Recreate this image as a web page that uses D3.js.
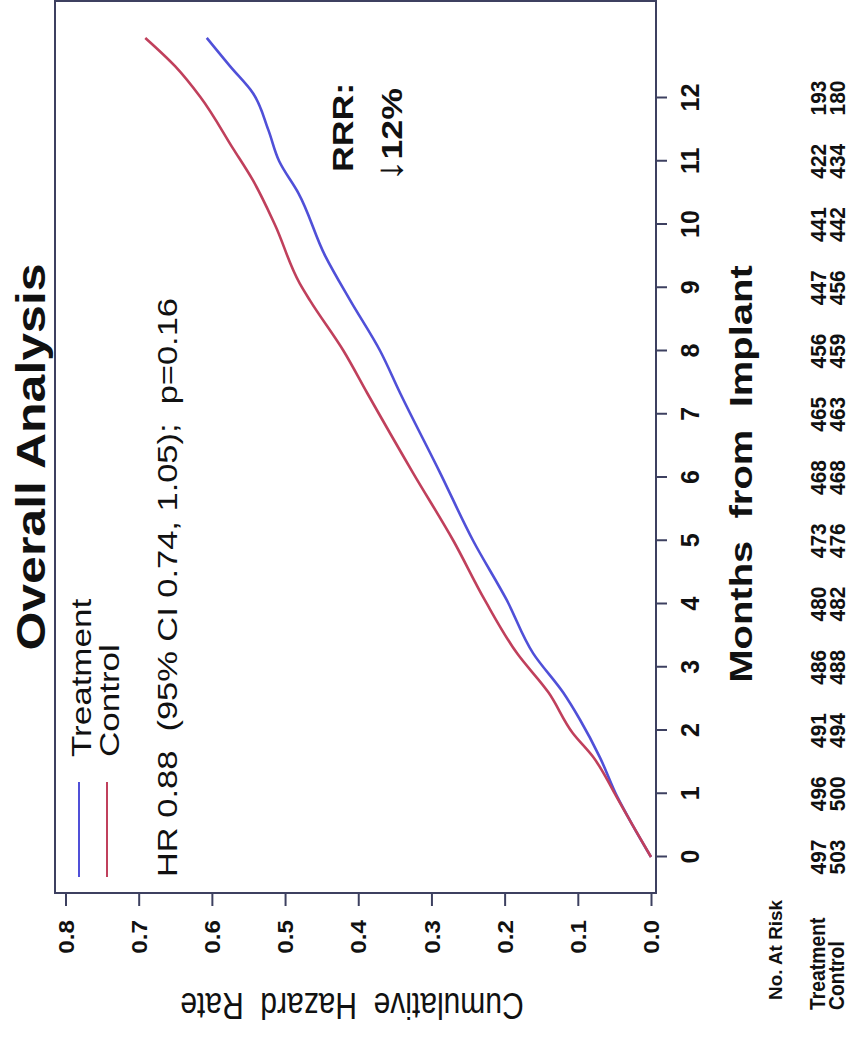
<!DOCTYPE html>
<html>
<head>
<meta charset="utf-8">
<script src="https://cdn.jsdelivr.net/npm/d3@7"></script>
<style>
  body { margin: 0; background: #fff; }
  text { font-family: "Liberation Sans", Arial, Helvetica, sans-serif; fill: #111; white-space: pre; }
</style>
</head>
<body>
<script>
// months on the (rotated) x axis, cumulative hazard on the y axis
var monthTicks = [0, 1, 2, 3, 4, 5, 6, 7, 8, 9, 10, 11, 12];
var hazardTicks = [0.0, 0.1, 0.2, 0.3, 0.4, 0.5, 0.6, 0.7, 0.8];

var treatMonths = [0, 0.5, 0.95, 1.58, 2.17, 2.6, 3.22, 4.06, 5.0, 6.07, 7.34, 8.0, 8.8, 9.5, 10.5, 11.0, 11.5, 12.08, 12.5, 12.95];
var treatHazard = [0, 0.025, 0.046, 0.070, 0.097, 0.120, 0.161, 0.197, 0.243, 0.288, 0.343, 0.370, 0.411, 0.445, 0.482, 0.508, 0.523, 0.544, 0.575, 0.607];

var ctrlMonths = [0, 0.5, 0.95, 1.58, 1.96, 2.6, 3.22, 4.06, 5.0, 6.07, 7.34, 8.0, 8.8, 9.07, 10.0, 10.7, 11.2, 12.02, 12.5, 12.95];
var ctrlHazard = [0, 0.025, 0.047, 0.079, 0.107, 0.140, 0.183, 0.227, 0.270, 0.325, 0.388, 0.420, 0.466, 0.480, 0.514, 0.544, 0.571, 0.616, 0.650, 0.691];

var atRiskTreat = [497, 496, 491, 486, 480, 473, 468, 465, 456, 447, 441, 422, 193];
var atRiskCtrl = [503, 500, 494, 488, 482, 476, 468, 463, 459, 456, 442, 434, 180];

var W = 851, H = 1059;
var axisCol = "#3d4060";
var blue = "#5050d8", red = "#c0405c";
var SX = 1.25;   // the picture is stretched along its long side

var svg = d3.select("body").append("svg")
    .attr("width", W)
    .attr("height", H);

// the whole plot is drawn turned a quarter turn counter-clockwise
var g = svg.append("g")
    .attr("transform", "translate(0," + H + ") rotate(-90)");

var x = d3.scaleLinear().domain([0, 12]).range([202, 961]);
var y = d3.scaleLinear().domain([0, 0.8]).range([651, 65.5]);

function label(px, py, str, size, weight, anchor, kx) {
    return g.append("text")
        .attr("transform", "translate(" + px + "," + py + ") scale(" + kx + ",1)")
        .attr("font-size", size)
        .attr("font-weight", weight)
        .attr("text-anchor", anchor)
        .text(str);
}

// plot box
g.append("rect")
    .attr("x", 166).attr("y", 55)
    .attr("width", 892).attr("height", 601)
    .attr("fill", "none")
    .attr("stroke", axisCol)
    .attr("stroke-width", 2);

// months axis
var xAxis = g.append("g")
    .attr("transform", "translate(0,656)")
    .call(d3.axisBottom(x).tickValues(monthTicks).tickSize(11).tickSizeOuter(0).tickFormat(d3.format("d")));
xAxis.select(".domain").remove();
xAxis.selectAll(".tick line").attr("stroke", axisCol).attr("stroke-width", 2);
xAxis.selectAll(".tick text")
    .attr("y", 43).attr("dy", null)
    .attr("font-size", 25).attr("font-weight", "bold")
    .attr("fill", "#111");

// hazard axis
var yAxis = g.append("g")
    .attr("transform", "translate(166,0)")
    .call(d3.axisLeft(y).tickValues(hazardTicks).tickSize(13).tickSizeOuter(0).tickFormat(d3.format(".1f")));
yAxis.select(".domain").remove();
yAxis.selectAll(".tick line").attr("stroke", axisCol).attr("stroke-width", 2);
yAxis.selectAll(".tick text")
    .attr("x", 0).attr("dy", "0.35em")
    .attr("transform", "translate(-27,0) scale(1.1,1)")
    .attr("font-size", 22).attr("font-weight", "bold")
    .attr("fill", "#111");

// curves
var line = d3.line()
    .curve(d3.curveMonotoneX)
    .x(function(d) { return x(d[0]); })
    .y(function(d) { return y(d[1]); });

g.append("path")
    .datum(d3.zip(treatMonths, treatHazard))
    .attr("d", line)
    .attr("fill", "none")
    .attr("stroke", blue)
    .attr("stroke-width", 2.6);

g.append("path")
    .datum(d3.zip(ctrlMonths, ctrlHazard))
    .attr("d", line)
    .attr("fill", "none")
    .attr("stroke", red)
    .attr("stroke-width", 2.6);

// legend
g.append("line").attr("x1", 182).attr("x2", 277).attr("y1", 79).attr("y2", 79)
    .attr("stroke", blue).attr("stroke-width", 2);
g.append("line").attr("x1", 182).attr("x2", 277).attr("y1", 107).attr("y2", 107)
    .attr("stroke", red).attr("stroke-width", 2);
label(302, 91, "Treatment", 28, "normal", "start", SX);
label(302, 119, "Control", 28, "normal", "start", SX);

label(182, 177, "HR 0.88  (95% CI 0.74, 1.05);  p=0.16", 28, "normal", "start", 1.23);

label(887, 353, "RRR:", 30, "bold", "start", SX * 0.95);
var rr2 = label(877, 402, "", 30, "bold", "start", SX * 0.95);
rr2.append("tspan").attr("font-weight", "normal").attr("font-size", 38).text("\u2193");
rr2.append("tspan").text("12%");

// titles
label(602, 45, "Overall Analysis", 40, "bold", "middle", SX);
label(585, 752, "Months  from  Implant", 32, "bold", "middle", SX);
g.append("text")
    .attr("transform", "translate(66,352) scale(" + SX + ",1) rotate(-90)")
    .attr("font-size", 30)
    .attr("text-anchor", "middle")
    .text("Cumulative  Hazard  Rate");

// numbers at risk
label(59, 782, "No. At Risk", 18, "bold", "start", 1.05);
label(49, 825, "Treatment", 22, "bold", "start", 0.88);
label(49, 844, "Control", 22, "bold", "start", 0.88);

g.selectAll(".riskT")
    .data(atRiskTreat)
    .enter().append("text")
    .attr("class", "riskT")
    .attr("transform", function(d, i) { return "translate(" + x(monthTicks[i]) + ",826) scale(0.95,1)"; })
    .attr("text-anchor", "middle")
    .attr("font-size", 22).attr("font-weight", "bold")
    .text(function(d) { return d; });

g.selectAll(".riskC")
    .data(atRiskCtrl)
    .enter().append("text")
    .attr("class", "riskC")
    .attr("transform", function(d, i) { return "translate(" + x(monthTicks[i]) + ",845) scale(0.95,1)"; })
    .attr("text-anchor", "middle")
    .attr("font-size", 22).attr("font-weight", "bold")
    .text(function(d) { return d; });
</script>
</body>
</html>
